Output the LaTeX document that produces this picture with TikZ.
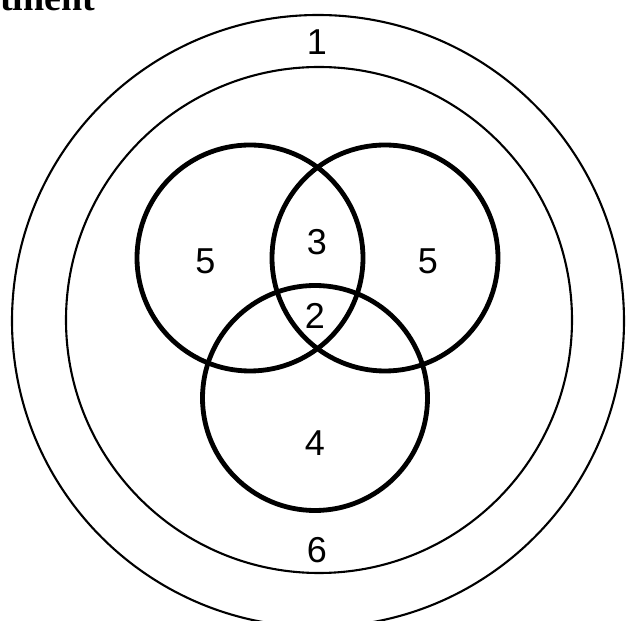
\documentclass[tikz,border=0pt]{standalone}
\usepackage{fontspec}
\setmainfont{Liberation Serif}
\setsansfont{Liberation Sans}
\usepackage{tikz}

\begin{document}
\begin{tikzpicture}[x=1pt,y=1pt,
  ringline/.style={draw,circle,inner sep=0pt,line width=2.1pt},
  setline/.style={draw,circle,inner sep=0pt,line width=4.8pt},
  regionlabel/.style={font=\sffamily\fontsize{36}{42}\selectfont,inner sep=0pt}
]
  \useasboundingbox (0,0) rectangle (627,621);
  \clip (0,0) rectangle (627,621);

  % frame and universe
  \node[ringline,minimum size=612pt] (outer) at (318,300) {};
  \node[ringline,minimum size=506pt] (inner) at (319,301) {};

  % three sets
  \node[setline,minimum size=226pt] (setleft) at (250,363) {};
  \node[setline,minimum size=226pt] (setright) at (385,363) {};
  \node[setline,minimum size=225pt] (setbottom) at (315,223) {};

  % region counts
  \node[regionlabel] (count1) at (317,579) {1};
  \node[regionlabel] (count5l) at (205.5,360) {5};
  \node[regionlabel] (count3) at (317,379) {3};
  \node[regionlabel] (count5r) at (428,360) {5};
  \node[regionlabel] (count2) at (315,305) {2};
  \node[regionlabel] (count4) at (315,178) {4};
  \node[regionlabel] (count6) at (317,71) {6};

  \node[anchor=base west,inner sep=0pt,font=\bfseries\fontsize{38}{42}\selectfont]
    (heading) at (0,610) {tinent};
\end{tikzpicture}
\end{document}
